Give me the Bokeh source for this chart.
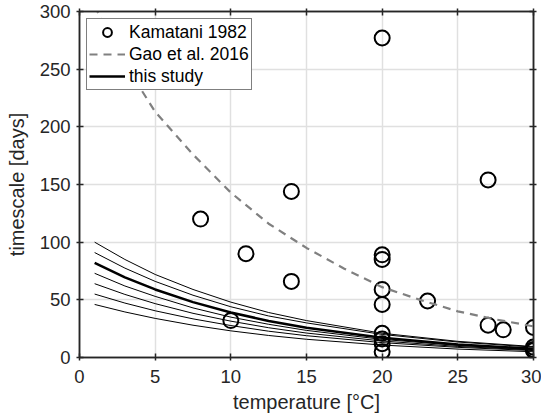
from bokeh.plotting import figure
from bokeh.models import LinearAxis, Range1d, Legend, LegendItem, FixedTicker, CustomJSTickFormatter
from bokeh.embed import file_html
from bokeh.resources import INLINE

# Kamatani 1982 observations
kam_T = [8, 10, 11, 14, 14, 20, 20, 20, 20, 20, 20, 20, 20, 20, 23, 27, 27, 28, 30, 30, 30, 30]
kam_days = [120, 32, 90, 144, 66, 277, 89, 85, 59, 46, 21, 16, 12, 5, 49, 154, 28, 24, 26, 9, 7, 6]

# Gao et al. 2016 curve
gao_T = [1, 2.5, 5, 7.5, 10, 12.5, 15, 17.5, 20, 22.5, 25, 27.5, 30]
gao_days = [305, 265, 213, 176, 143, 116, 95, 77, 61, 50, 40, 33, 27]

# this study: ensemble of curves (index 2 is the thick central one)
study_T = [1, 3, 5, 7.5, 10, 12.5, 15, 20, 25, 30]
study_c1 = [100, 85, 72, 59, 48, 39, 32, 21, 14, 9.5]
study_c2 = [91, 77.5, 66, 54, 44, 36, 30, 20, 13.4, 9]
study_c3 = [82, 69.5, 59, 48, 39, 31.7, 25.8, 17.1, 11.3, 7.5]
study_c4 = [73, 62, 53, 43, 35, 28.8, 23.5, 15.7, 10.5, 7]
study_c5 = [64, 54.7, 46.7, 38.3, 31.5, 25.8, 21.2, 14.3, 9.6, 6.5]
study_c6 = [55, 47.2, 40.5, 33.5, 27.7, 22.8, 18.9, 12.9, 8.8, 6]
study_c7 = [46, 39.5, 33.9, 28, 23.1, 19.1, 15.8, 10.8, 7.3, 5]
study_curves = [study_c1, study_c2, study_c3, study_c4, study_c5, study_c6, study_c7]
thick_index = 2

x_ticks = [0, 5, 10, 15, 20, 25, 30]
y_ticks = [0, 50, 100, 150, 200, 250, 300]

FONT = "Liberation Sans"
TXT = "#262626"

p = figure(width=541, height=419, x_range=Range1d(0, 30), y_range=Range1d(0, 300),
           output_backend="svg", toolbar_location=None,
           min_border_left=79, min_border_right=8, min_border_top=11, min_border_bottom=62)
p.background_fill_color = "white"
p.border_fill_color = "white"
p.outline_line_color = TXT
p.outline_line_width = 1.5

p.xaxis.ticker = FixedTicker(ticks=x_ticks)
p.yaxis.ticker = FixedTicker(ticks=y_ticks)
p.xaxis.axis_label = "temperature [°C]"
p.yaxis.axis_label = "timescale [days]"
for ax in [p.xaxis[0], p.yaxis[0]]:
    ax.axis_label_text_font = FONT
    ax.axis_label_text_font_style = "normal"
    ax.axis_label_text_font_size = "20px"
    ax.axis_label_text_color = TXT
    ax.major_label_text_font = FONT
    ax.major_label_text_font_size = "18.5px"
    ax.major_label_text_color = TXT
    ax.axis_line_color = TXT
    ax.axis_line_width = 1.5
    ax.major_tick_line_color = TXT
    ax.major_tick_line_width = 1.5
    ax.major_tick_in = 4
    ax.major_tick_out = 3
    ax.minor_tick_line_color = None
p.xaxis.major_label_standoff = 9
p.xaxis.axis_label_standoff = 5
p.yaxis.major_label_standoff = 6
p.yaxis.axis_label_standoff = 9

for loc, tk in [("above", x_ticks), ("right", y_ticks)]:
    ax = LinearAxis(ticker=FixedTicker(ticks=tk),
                    formatter=CustomJSTickFormatter(code="return ''"),
                    major_label_standoff=0, axis_line_color=TXT, axis_line_width=1.5,
                    major_tick_line_color=TXT, major_tick_line_width=1.5,
                    major_tick_in=4, major_tick_out=3, minor_tick_line_color=None)
    p.add_layout(ax, loc)

p.xgrid.ticker = FixedTicker(ticks=x_ticks)
p.ygrid.ticker = FixedTicker(ticks=y_ticks)
p.grid.grid_line_color = "#e0e0e0"
p.grid.grid_line_width = 1.5

r_kam = p.scatter(kam_T, kam_days, marker="circle", size=15, fill_color=None,
                  line_color="black", line_width=2)
r_gao = p.line(gao_T, gao_days, line_color="#808080", line_width=2.2, line_dash="8 6")
for i, c in enumerate(study_curves):
    if i == thick_index:
        continue
    p.line(study_T, c, line_color="black", line_width=1)
r_thick = p.line(study_T, study_curves[thick_index], line_color="black", line_width=2.5)

legend = Legend(items=[LegendItem(label="Kamatani 1982", renderers=[r_kam]),
                       LegendItem(label="Gao et al. 2016", renderers=[r_gao]),
                       LegendItem(label="this study", renderers=[r_thick])],
                location="top_left")
legend.margin = 7
legend.padding = 2
legend.spacing = 0
legend.glyph_width = 36
legend.glyph_height = 22
legend.label_height = 22
legend.label_standoff = 4
legend.label_text_font = FONT
legend.label_text_font_size = "17.5px"
legend.label_text_color = "black"
legend.border_line_color = "black"
legend.border_line_width = 1.5
legend.background_fill_color = "white"
legend.background_fill_alpha = 1
p.add_layout(legend)

open("out.html", "w").write(file_html(p, INLINE))
